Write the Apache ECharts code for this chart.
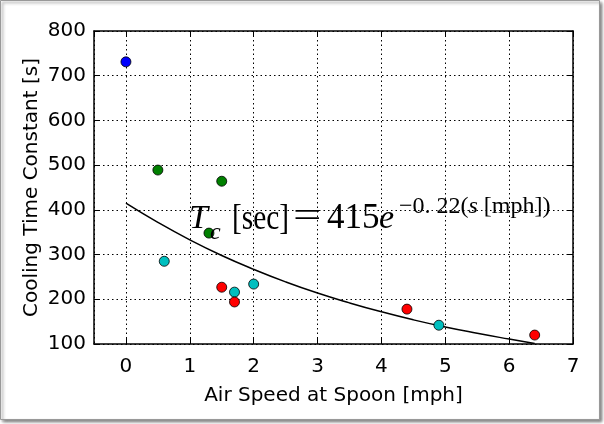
<!DOCTYPE html>
<html>
<head>
<meta charset="utf-8">
<script src="https://cdn.jsdelivr.net/npm/echarts@6/dist/echarts.min.js"></script>
<style>
html, body { margin: 0; padding: 0; background: #fff; }
#chart { width: 604px; height: 424px; }
</style>
</head>
<body>
<div id="chart"></div>
<script>
// measured points, grouped by marker colour
var bluePts = [[0, 731]];
var greenPts = [[0.5, 489], [1.3, 348], [1.5, 464]];
var cyanPts = [[0.6, 285], [1.7, 216], [2.0, 234], [4.9, 142]];
var redPts = [[1.5, 227], [1.7, 194], [4.4, 178], [6.4, 120]];

// fitted curve
var curveX = [0, 0.5, 1, 1.5, 2, 2.5, 3, 3.5, 4, 4.5, 5, 5.5, 6, 6.4];
var curveY = [415, 372, 333, 298, 267, 239, 214, 192, 172, 154, 138, 124, 111, 101];

var xTitle = 'Air Speed at Spoon [mph]';
var yTitle = 'Cooling Time Constant [s]';

var dom = document.getElementById('chart');
var myChart = echarts.init(dom, null, { renderer: 'canvas' });

var sansFont = '"DejaVu Sans"';
var serifFont = '"Liberation Serif"';

var gridLine = { show: true, lineStyle: { color: '#000', type: [1.5, 3], width: 1 } };
var tickIn = { show: true, inside: true, length: 6, lineStyle: { color: '#000', width: 1 } };
var axisLn = { show: true, onZero: false, lineStyle: { color: '#000', width: 1.5 } };

function scatter(name, pts, color) {
  return {
    name: name,
    type: 'scatter',
    data: pts,
    symbolSize: 10,
    z: 5,
    itemStyle: { color: color, borderColor: '#000', borderWidth: 0.8, opacity: 1 }
  };
}

var option = {
  backgroundColor: 'transparent',
  animation: false,
  grid: { left: 94, right: 31, top: 31, bottom: 80 },
  xAxis: [
    {
      type: 'value', position: 'bottom', min: -0.5, max: 7, splitNumber: 8,
      axisLine: axisLn, axisTick: tickIn, splitLine: gridLine,
      axisLabel: { showMinLabel: false, color: '#000', fontFamily: sansFont, fontSize: 20, margin: 13 },
      name: xTitle, nameLocation: 'middle', nameGap: 42, nameMoveOverlap: false,
      nameTextStyle: { color: '#000', fontFamily: sansFont, fontSize: 20 }
    },
    {
      type: 'value', position: 'top', min: -0.5, max: 7, splitNumber: 8,
      axisLine: axisLn, axisTick: tickIn, splitLine: { show: false },
      axisLabel: { show: false }
    }
  ],
  yAxis: [
    {
      type: 'value', position: 'left', min: 100, max: 800, interval: 100,
      axisLine: axisLn, axisTick: tickIn, splitLine: gridLine,
      axisLabel: { color: '#000', fontFamily: sansFont, fontSize: 20, margin: 8 },
      name: yTitle, nameLocation: 'middle', nameGap: 52, nameMoveOverlap: false,
      nameTextStyle: { color: '#000', fontFamily: sansFont, fontSize: 20 }
    },
    {
      type: 'value', position: 'right', min: 100, max: 800, interval: 100,
      axisLine: axisLn, axisTick: tickIn, splitLine: { show: false },
      axisLabel: { show: false }
    }
  ],
  series: [
    {
      name: 'fit',
      type: 'line',
      data: curveX.map(function (x, i) { return [x, curveY[i]]; }),
      smooth: true,
      showSymbol: false,
      z: 3,
      lineStyle: { color: '#000', width: 1.5 }
    },
    scatter('blue', bluePts, '#0000ff'),
    scatter('green', greenPts, '#008000'),
    scatter('cyan', cyanPts, '#00bfbf'),
    scatter('red', redPts, '#ff0000')
  ],
  graphic: [
    {
      type: 'rect', z: -10, silent: true,
      shape: { x: 0.5, y: 0.5, width: 599, height: 419 },
      style: {
        fill: '#fff', stroke: '#999', lineWidth: 1,
        shadowBlur: 3, shadowOffsetX: 2, shadowOffsetY: 2, shadowColor: 'rgba(0,0,0,0.5)'
      }
    },
    // annotation: T_c [sec] = 415 e^{-0.22 (s [mph])}
    { type: 'text', x: 189, y: 236, z: 10, style: { text: 'T', fontFamily: serifFont, fontStyle: 'italic', fontSize: 34, fill: '#000', verticalAlign: 'bottom' } },
    { type: 'text', x: 210, y: 245, z: 10, style: { text: 'c', fontFamily: serifFont, fontStyle: 'italic', fontSize: 24, fill: '#000', verticalAlign: 'bottom' } },
    { type: 'text', x: 232, y: 237, z: 10, scaleX: 0.84, style: { text: '[sec]', fontFamily: serifFont, fontSize: 35, fill: '#000', verticalAlign: 'bottom' } },
    { type: 'text', x: 293, y: 236, z: 10, scaleX: 1.4, style: { text: '=', fontFamily: serifFont, fontSize: 36, fill: '#000', verticalAlign: 'bottom' } },
    { type: 'text', x: 327, y: 236, z: 10, style: { text: '415', fontFamily: serifFont, fontSize: 35, fill: '#000', verticalAlign: 'bottom' } },
    { type: 'text', x: 379, y: 236, z: 10, style: { text: 'e', fontFamily: serifFont, fontStyle: 'italic', fontSize: 34, fill: '#000', verticalAlign: 'bottom' } },
    {
      type: 'text', x: 399, y: 219, z: 10,
      style: {
        text: '{a|\u22120. 22(}{i|s}{a| [mph])}',
        verticalAlign: 'bottom',
        rich: {
          a: { fontFamily: serifFont, fontSize: 24, color: '#000' },
          i: { fontFamily: serifFont, fontSize: 24, fontStyle: 'italic', color: '#000' }
        }
      }
    }
  ]
};

if (option && typeof option === 'object') {
  myChart.setOption(option);
}

window.addEventListener('resize', myChart.resize);
</script>
</body>
</html>
